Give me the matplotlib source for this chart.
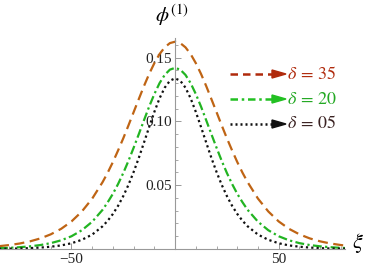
import matplotlib
matplotlib.use('Agg')
import matplotlib.pyplot as plt
from matplotlib.ticker import MultipleLocator

plt.rcParams['mathtext.fontset'] = 'stix'
plt.rcParams['font.family'] = ['Liberation Serif', 'DejaVu Serif']

# values (right half, the curves are symmetric)
xi_half = [0, 2.5, 5, 7.5, 10, 12.5, 15, 17.5, 20, 22.5, 25, 27.5, 30, 32.5, 35,
           40, 45, 50, 55, 60, 65, 70, 75, 80, 85]
phi_35 = [0.1625, 0.1614, 0.1581, 0.1528, 0.1457, 0.1373, 0.1278, 0.1176, 0.1073,
          0.0969, 0.0868, 0.0773, 0.0682, 0.0599, 0.0524, 0.0395, 0.0294, 0.0216,
          0.0158, 0.0115, 0.0083, 0.0060, 0.0043, 0.0031, 0.0022]
phi_20 = [0.1420, 0.1406, 0.1365, 0.1300, 0.1215, 0.1117, 0.1010, 0.0901, 0.0794,
          0.0691, 0.0596, 0.0510, 0.0433, 0.0367, 0.0307, 0.0214, 0.0147, 0.0100,
          0.0068, 0.0046, 0.0031, 0.0021, 0.0014, 0.0009, 0.0006]
phi_05 = [0.1338, 0.1319, 0.1265, 0.1181, 0.1075, 0.0957, 0.0835, 0.0715, 0.0604,
          0.0503, 0.0415, 0.0339, 0.0275, 0.0222, 0.0178, 0.0113, 0.0072, 0.0045,
          0.0028, 0.0018, 0.0011, 0.0007, 0.0004, 0.0003, 0.0002]
labels = [r'$\delta\,=\,35$', r'$\delta\,=\,20$', r'$\delta\,=\,05$']


def mirror(xs, ys):
    return [-x for x in xs[:0:-1]] + xs, ys[:0:-1] + ys


fig = plt.figure(figsize=(3.71, 2.70), dpi=100)
ax = fig.add_axes([0.0, 21 / 270, 345 / 371, 211 / 270])

curve_colors = ['#bf6414', '#22b422', '#101010']
styles = [(0, (4.5, 2.5)), (0, (4, 1.5, 1, 1.5)), (0, (1, 1.4))]
for ys, c, ls in zip([phi_35, phi_20, phi_05], curve_colors, styles):
    x, y = mirror(xi_half, ys)
    ax.plot(x, y, color=c, linestyle=ls, lw=1.6)

ax.set_xlim(-84.5, 82)
ax.set_ylim(0, 0.1654)

for s in ['top', 'right']:
    ax.spines[s].set_visible(False)
ax.spines['left'].set_position(('data', 0))
ax.spines['bottom'].set_position(('data', 0))
for s in ['left', 'bottom']:
    ax.spines[s].set_color('#999999')
    ax.spines[s].set_linewidth(0.8)

ax.xaxis.set_minor_locator(MultipleLocator(10))
ax.yaxis.set_minor_locator(MultipleLocator(0.01))
ax.set_xticks([-50, 50])
ax.set_yticks([0.05, 0.10, 0.15])
ax.set_yticklabels(['0.05', '0.10', '0.15'])
ax.set_xticklabels(['\u221250', '50'])
# Mathematica style: ticks point into the plot, labels outside
ax.tick_params(which='both', direction='in', color='#999999', labelsize=11,
               labelcolor='#222222')
ax.tick_params(axis='x', pad=3)
ax.tick_params(axis='y', pad=2)
ax.tick_params(which='major', length=4.5, width=0.7)
ax.tick_params(which='minor', length=2.5, width=0.6)
ax.patch.set_alpha(0)

# axis labels
fig.text(172 / 371, 1 - 15 / 270, r'$\phi^{(1)}$', fontsize=15, ha='center', va='center')
fig.text(358 / 371, 1 - 243 / 270, r'$\xi$', fontsize=16, ha='center', va='center')

# hand drawn legend with arrows
leg_line = ['#b02a0c', '#22c022', '#101010']
leg_text = ['#b02a0c', '#22a822', '#3a2222']
leg_y = [74, 99, 124]
leg_styles = [(0, (3, 2)), (0, (3, 1.5, 1, 1.5)), (0, (0.8, 1.2))]
for lab, lc, tc, yy, ls in zip(labels, leg_line, leg_text, leg_y, leg_styles):
    yf = 1 - yy / 270
    fig.add_artist(plt.Line2D([230 / 371, 273 / 371], [yf, yf], color=lc, ls=ls, lw=1.8,
                              transform=fig.transFigure))
    fig.add_artist(plt.Polygon([[272 / 371, yf + 4 / 270], [286 / 371, yf],
                                [272 / 371, yf - 4 / 270]], closed=True, color=lc,
                               transform=fig.transFigure))
    fig.text(287 / 371, yf, lab, color=tc, fontsize=13, ha='left', va='center')

fig.savefig('out.png', dpi=100)
